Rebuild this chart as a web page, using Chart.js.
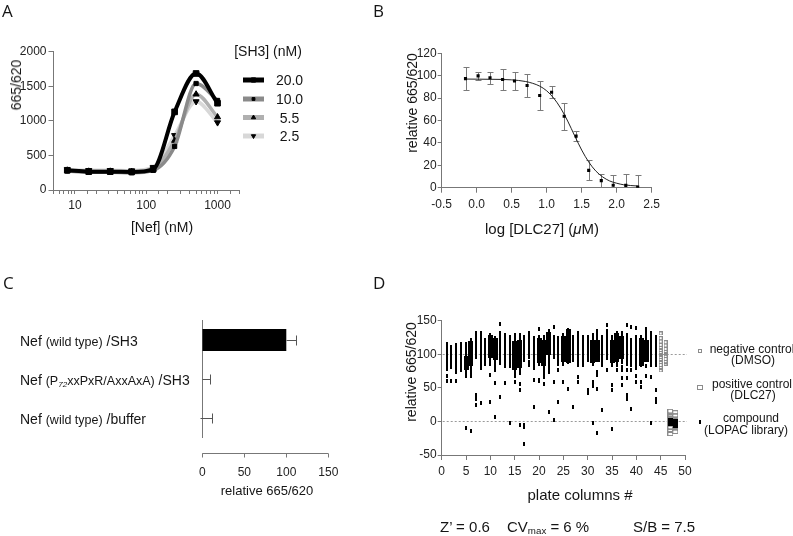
<!DOCTYPE html>
<html><head><meta charset="utf-8">
<script src="https://cdn.jsdelivr.net/npm/chart.js@4/dist/chart.umd.min.js"></script>
<style>
body{margin:0;background:#fff;width:793px;height:536px;overflow:hidden;position:relative;font-family:"Liberation Sans",Arial,sans-serif;color:#151515}
canvas{position:absolute;left:0;top:0}
.t{position:absolute;white-space:nowrap;line-height:1}
.t sub{font-size:0.65em;vertical-align:-0.25em;line-height:0}
.sm{font-size:12.5px}
</style></head><body>
<canvas id="cA" width="793" height="536"></canvas>
<canvas id="cB" width="793" height="536"></canvas>
<canvas id="cC" width="793" height="536"></canvas>
<canvas id="cD" width="793" height="536"></canvas>
<script>
// ---------- Panel A data ----------
const nefConc = [7.8, 15.6, 31.25, 62.5, 125, 250, 500, 1000];
const sh3Labels = ['20.0', '10.0', '5.5', '2.5'];
const ratioSH3_20 = [285, 265, 265, 262, 300, 1130, 1685, 1255];
const ratioSH3_10 = [275, 255, 255, 250, 285, 630, 1540, 1295];
const ratioSH3_55 = [285, 270, 270, 265, 310, 715, 1385, 1055];
const ratioSH3_25 = [295, 285, 285, 280, 330, 790, 1280, 975];
const nefTickLabels = [10, 100, 1000];

// ---------- Panel B data ----------
const logDLC27 = [-0.16, 0.02, 0.19, 0.37, 0.54, 0.72, 0.9, 1.07, 1.25, 1.42, 1.6, 1.78, 1.95, 2.13, 2.3];
const relSignal = [97.4, 99.8, 98.2, 96.6, 95.3, 91.2, 82.3, 85.2, 63.8, 46, 15.5, 6.3, 2.2, 2.1, 0.5];
const relSignalErr = [10.2, 3.6, 5.5, 9.4, 8.2, 10.5, 13, 5.2, 12, 4.6, 9, 6.2, 9, 10.2, 10.5];
const fitLogX = [-0.16, 0.2, 0.5, 0.7, 0.8, 0.9, 1.0, 1.1, 1.2, 1.3, 1.4, 1.5, 1.6, 1.7, 1.8, 1.9, 2.0, 2.1, 2.3];
const fitRel = [97, 96.8, 96.3, 94.8, 93.2, 90.7, 86.5, 80, 71, 59.5, 46.3, 33.6, 23, 15, 9.6, 6, 4, 2.6, 1.5];

// ---------- Panel C data ----------
const constructs = ['Nef (wild type) /SH3', 'Nef (P72xxPxR/AxxAxA) /SH3', 'Nef (wild type) /buffer'];
const constructSignal = [100, 0, 0];
const constructErrHigh = [12, 9, 12];
const constructErrLow = [0, 0, 3];

// ---------- Panel D data ----------
const compoundByColumn = [
 [115,111,107,104,100,97,93,90,86,82,78,68,60],
 [111,107,103,99,96,92,88,85,81,60],
 [114,110,106,102,98,95,91,87,83,79,74,60],
 [116,112,108,105,101,97,93,89,85,81,77],
 [116,112,108,104,100,96,92,88,84,80,76,72,67,-10],
 [122,118,114,110,106,102,98,94,90,86,82,78,74,68,-15],
 [131,127,123,119,115,111,107,103,99,96,39,34,24],
 [131,127,123,119,115,111,107,103,99,95,91,87,83,79,27],
 [121,117,113,109,105,101,97,93,89,86],
 [129,125,121,117,113,109,105,101,97,93,89,85,69,29],
 [124,120,116,112,108,104,100,96,92,88,84,80,76,57,7],
 [145,131,127,123,119,115,111,107,103,99,95,91,87,37],
 [129,125,121,117,113,109,105,101,97,93,89,85,82,57],
 [126,122,118,114,110,106,102,98,94,90,86,82,-3],
 [128,124,120,116,112,108,104,100,96,92,88,84,80,76,72,68,58],
 [128,124,120,116,112,108,104,100,96,92,88,84,80,76,72,56,47,-5],
 [126,122,118,114,110,106,102,98,94,91,-5,-8,-33],
 [131,127,123,119,115,111,107,103,99,96,88,84],
 [124,120,116,112,108,104,100,96,92,88,86,79,62,22],
 [137,126,122,118,114,110,106,102,98,94,90,86,62,60],
 [126,122,118,114,110,106,102,98,94,90,86,82,78,74,69,66,55],
 [134,130,126,122,118,114,110,106,102,98,94,90,86,82,79,74,14],
 [141,126,122,118,114,110,106,102,98,96,59,2],
 [124,120,116,112,108,104,100,96,92,88,85,76,29],
 [129,125,121,117,113,109,105,101,97,93,89,85,59],
 [136,132,128,124,120,116,112,108,104,100,96,92,89,49],
 [126,122,118,114,110,106,102,98,94,92,22],
 [131,127,123,119,115,111,107,103,99,95,91,87,84,66,59],
 [126,122,118,114,110,106,102,98,94,90,84],
 [126,122,118,114,110,106,102,98,94,92,47,42],
 [129,125,121,117,113,109,105,101,97,93,89,85,59,53,-3],
 [134,130,126,122,118,114,110,106,102,98,94,91,74,69,49,-17],
 [126,122,118,114,110,106,102,98,94,90,86,84,17],
 [143,134,130,126,122,118,114,110,106,102,98,95,77],
 [126,122,118,114,110,106,102,98,94,90,86,84,54,47,-11],
 [132,128,124,120,116,112,108,104,100,96,92,88,84,77],
 [132,128,124,120,116,112,108,104,100,96,92,88,81,77,64,54],
 [143,129,125,121,117,113,109,105,101,97,93,89,86,77,64,39,34],
 [140,122,118,114,110,106,102,98,94,90,86,84,77,19],
 [139,126,122,118,114,110,106,102,98,94,90,86,80,67,59],
 [126,122,118,114,110,106,102,98,94,90,86,84,59,52],
 [137,134,130,126,122,118,114,110,106,102,98,94,91,82,67],
 [132,126,122,118,114,110,106,102,98,94,90,86,84,66,-3],
 [126,122,118,114,110,106,102,98,94,90,86,84,47,34,29]
];
const compoundDenseByColumn = {
 5:[94,90,86,82,79], 6:[117,113,109,105,101,97,93,89,86], 10:[126,122,118,114,110,106,102,98],
 11:[122,118,114,110,106,102,98,94], 15:[117,113,109,105,101,97,93,89,85,81,79],
 16:[118,114,110,106,102,98,94,90,86,82], 20:[122,118,114,110,106,102,98,94,90],
 21:[118,114,110,106,102,98,94,90,86], 22:[130,126,122,118,114,110,106,102],
 25:[124,120,116,112,108,104,100,96,92], 26:[134,130,126,122,118,114,110,106,102,98,94,90],
 31:[118,114,110,106,102,98,94,90], 32:[118,114,110,106,102,98,94,91],
 35:[118,114,110,106,102,98,94,90], 36:[128,124,120,116,112,108,104,100,96,92],
 37:[124,120,116,112,108,104,100,96], 41:[122,118,114,110,106,102,98,94,90,86],
 42:[118,114,110,106,102,98,94,91], 47:[2,-1,-4], 48:[1,-3,-7]
};
const dmsoColumns = [45, 46];
const dmsoValues = [[131,124,119,114,110,106,102,99,96,92,88,84,80,76],[118,113,108,104,100,97,93,89,86]];
const dlc27Columns = [47, 48];
const dlc27Values = [[15,11,7,3,-1,-5,-9,-13,-18],[13,9,5,1,-3,-7,-11,-15]];
const refLevels = [0, 100];
const statZ = "Z’ = 0.6", statCV = "CV<sub>max</sub> = 6 %", statSB = "S/B = 7.5";

// ---------- helpers ----------
const F = '"Liberation Sans", Arial, sans-serif';
const AX = '#777';
const TK = '#222';
Chart.defaults.font.family = F;
Chart.defaults.color = TK;
function txt(html, x, y, size, o = {}) {
  const d = document.createElement('div');
  d.className = 't'; d.innerHTML = html;
  d.style.left = x + 'px'; d.style.top = y + 'px';
  d.style.fontSize = size + 'px';
  if (o.family) d.style.fontFamily = o.family;
  const tx = o.align === 'center' ? '-50%' : (o.align === 'right' ? '-100%' : '0');
  d.style.transform = `translate(${o.rotate ? '-50%' : tx},-50%)` + (o.rotate ? ' rotate(-90deg)' : '');
  document.body.appendChild(d);
}
function axis(extra) {
  return Object.assign({
    border: {color: AX, width: 1},
    grid: {drawOnChartArea: false, color: AX, tickLength: 4},
  }, extra);
}
const tickFont = {size: 12, family: F};
const base = {responsive: false, animation: false, events: [],
  plugins: {legend: {display: false}, tooltip: {enabled: false}}};
function markerCanvas(w, h, draw) { const c = document.createElement('canvas'); c.width = w; c.height = h; draw(c.getContext('2d'), w, h); return c; }

// ---------- Chart A ----------
const legendA = {
  id: 'legA',
  afterDraw(chart) {
    const ctx = chart.ctx, ys = [80, 99, 117.5, 136];
    chart.data.datasets.forEach((ds, i) => {
      ctx.save();
      ctx.strokeStyle = ds.borderColor; ctx.lineWidth = 5;
      ctx.beginPath(); ctx.moveTo(243, ys[i]); ctx.lineTo(264, ys[i]); ctx.stroke();
      ctx.fillStyle = '#000'; ctx.strokeStyle = '#000'; ctx.lineWidth = 1;
      Chart.helpers.drawPoint(ctx, {pointStyle: ds.pointStyle, rotation: ds.pointRotation || 0, radius: ds.pointRadius - 1, borderWidth: 1}, 253.5, ys[i]);
      ctx.restore();
    });
  }
};
const lineColorsA = ['#000', '#8a8a8a', '#b0b0b0', '#d8d8d8'];
const seriesA = [ratioSH3_20, ratioSH3_10, ratioSH3_55, ratioSH3_25];
const stylesA = [['rect', 0, 4], ['rect', 0, 3], ['triangle', 0, 3.5], ['triangle', 180, 3.5]];
new Chart(document.getElementById('cA'), {
  type: 'line',
  data: {datasets: seriesA.map((s, i) => ({
    label: sh3Labels[i],
    data: nefConc.map((x, j) => ({x, y: s[j]})),
    borderColor: lineColorsA[i], borderWidth: i === 0 ? 4 : 3.5,
    pointStyle: stylesA[i][0], pointRotation: stylesA[i][1], pointRadius: stylesA[i][2],
    pointBackgroundColor: '#000', pointBorderColor: '#000', pointBorderWidth: 1,
    cubicInterpolationMode: 'monotone'
  }))},
  options: Object.assign({}, base, {
    layout: {padding: {left: 12, right: 554, top: 51.7, bottom: 316}},
    scales: {
      x: axis({type: 'logarithmic', min: 5, max: 2000, afterFit: s => { s.height = 30; },
        ticks: {autoSkip: false, maxRotation: 0, padding: 4, font: tickFont, color: TK,
          callback: v => nefTickLabels.includes(Math.round(v)) && Math.abs(Math.log10(v) % 1) < 1e-6 ? String(Math.round(v)) : ''}}),
      y: axis({min: 0, max: 2000, afterFit: s => { s.width = 41.5; },
        grid: {drawOnChartArea: false, color: AX, tickLength: 5},
        ticks: {stepSize: 250, padding: 2, font: tickFont, color: TK, callback: v => v % 500 === 0 ? String(v) : ''}})
    }
  }),
  plugins: [legendA]
});

// ---------- Chart B ----------
const errorBarsB = {
  id: 'errB',
  beforeDatasetsDraw(chart) {
    const {ctx, chartArea: a, scales: {x, y}} = chart;
    ctx.save(); ctx.beginPath(); ctx.rect(a.left, a.top - 12, a.right - a.left, a.bottom - a.top + 12); ctx.clip();
    ctx.strokeStyle = '#7a7a7a'; ctx.lineWidth = 1;
    logDLC27.forEach((lx, i) => {
      const px = Math.round(x.getPixelForValue(lx)) + 0.5;
      const hi = Math.round(y.getPixelForValue(relSignal[i] + relSignalErr[i])) + 0.5;
      const lo = Math.round(y.getPixelForValue(relSignal[i] - relSignalErr[i])) + 0.5;
      ctx.beginPath(); ctx.moveTo(px, hi); ctx.lineTo(px, lo);
      ctx.moveTo(px - 3, hi); ctx.lineTo(px + 3, hi);
      ctx.moveTo(px - 3, lo); ctx.lineTo(px + 3, lo); ctx.stroke();
    });
    ctx.restore();
  }
};
new Chart(document.getElementById('cB'), {
  type: 'scatter',
  data: {datasets: [
    {data: logDLC27.map((x, i) => ({x, y: relSignal[i]})), pointStyle: 'rect', pointRadius: 2.2,
     pointBackgroundColor: '#000', pointBorderColor: '#000', pointBorderWidth: 0, showLine: false},
    {data: fitLogX.map((x, i) => ({x, y: fitRel[i]})), showLine: true, pointRadius: 0,
     borderColor: '#222', borderWidth: 1, cubicInterpolationMode: 'monotone'}
  ]},
  options: Object.assign({}, base, {
    layout: {padding: {left: 400, right: 141.3, top: 53.3, bottom: 318.3}},
    scales: {
      x: axis({type: 'linear', min: -0.5, max: 2.5, afterFit: s => { s.height = 30; },
        grid: {drawOnChartArea: false, color: AX, tickLength: 5},
        ticks: {stepSize: 0.5, padding: 5, font: tickFont, color: TK, maxRotation: 0, callback: v => Number(v).toFixed(1)}}),
      y: axis({type: 'linear', min: 0, max: 120, afterFit: s => { s.width = 41.7; },
        ticks: {stepSize: 20, padding: 1, font: tickFont, color: TK}})
    }
  }),
  plugins: [errorBarsB]
});

// ---------- Chart C ----------
const extrasC = {
  id: 'extC',
  afterDatasetsDraw(chart) {
    const {ctx, scales: {x, y}} = chart;
    ctx.save(); ctx.strokeStyle = '#555'; ctx.lineWidth = 1;
    constructs.forEach((c, i) => {
      const py = Math.round(y.getPixelForValue(i)) + 0.5;
      const v = constructSignal[i];
      const xh = Math.round(x.getPixelForValue(v + constructErrHigh[i])) + 0.5;
      const xl = Math.round(x.getPixelForValue(v - constructErrLow[i])) + 0.5;
      ctx.beginPath(); ctx.moveTo(xl, py); ctx.lineTo(xh, py);
      ctx.moveTo(xh, py - 5); ctx.lineTo(xh, py + 5); ctx.stroke();
    });
    ctx.restore();
  },
  afterDraw(chart) {
    const {ctx, chartArea: a, scales: {x}} = chart;
    const ay = Math.round(a.bottom + 15.5) + 0.5;
    ctx.save(); ctx.strokeStyle = AX; ctx.lineWidth = 1; ctx.beginPath();
    ctx.moveTo(x.getPixelForValue(x.min), ay); ctx.lineTo(x.getPixelForValue(x.max), ay);
    x.ticks.forEach(t => { const px = Math.round(x.getPixelForValue(t.value)) + 0.5; ctx.moveTo(px, ay); ctx.lineTo(px, ay + 4); });
    ctx.stroke(); ctx.restore();
  }
};
new Chart(document.getElementById('cC'), {
  type: 'bar',
  data: {labels: constructs, datasets: [{data: constructSignal, backgroundColor: '#000', barPercentage: 0.56, categoryPercentage: 1}]},
  options: Object.assign({}, base, {
    indexAxis: 'y',
    layout: {padding: {left: 200, right: 464.7, top: 320.5, bottom: 38.5}},
    scales: {
      x: {type: 'linear', min: 0, max: 150, afterFit: s => { s.height = 60; },
        border: {display: false}, grid: {display: false, drawTicks: false},
        ticks: {stepSize: 50, padding: 28, font: tickFont, color: TK, maxRotation: 0}},
      y: {afterFit: s => { s.width = 2.3; }, border: {color: AX}, grid: {display: false, drawTicks: false},
        ticks: {display: false}}
    }
  }),
  plugins: [extrasC]
});

// ---------- Chart D ----------
const mkThin = markerCanvas(2, 4, (g, w, h) => { g.fillStyle = '#000'; g.fillRect(0, 0, w, h); });
const mkDense = markerCanvas(5, 4, (g, w, h) => { g.fillStyle = '#000'; g.fillRect(0, 0, w, h); });
const mkDmso = markerCanvas(4, 4, (g) => { g.strokeStyle = '#8c8c8c'; g.lineWidth = 1; g.strokeRect(0.5, 0.5, 3, 3); });
const mkDlc = markerCanvas(6, 5, (g) => { g.strokeStyle = '#8c8c8c'; g.lineWidth = 1; g.strokeRect(0.5, 0.5, 5, 4); });
const thinPts = [], densePts = [], dmsoPts = [], dlcPts = [];
compoundByColumn.forEach((vals, i) => vals.forEach(v => thinPts.push({x: i + 1, y: v})));
Object.keys(compoundDenseByColumn).forEach(c => compoundDenseByColumn[c].forEach(v => densePts.push({x: +c, y: v})));
dmsoColumns.forEach((c, i) => dmsoValues[i].forEach(v => dmsoPts.push({x: c, y: v})));
dlc27Columns.forEach((c, i) => dlc27Values[i].forEach(v => dlcPts.push({x: c, y: v})));
const extrasD = {
  id: 'extD',
  beforeDatasetsDraw(chart) {
    const {ctx, scales: {x, y}} = chart;
    ctx.save(); ctx.strokeStyle = '#9a9a9a'; ctx.lineWidth = 1; ctx.setLineDash([2, 2]);
    refLevels.forEach(v => {
      const py = Math.round(y.getPixelForValue(v)) + 0.5;
      ctx.beginPath(); ctx.moveTo(x.getPixelForValue(x.min) + 1, py); ctx.lineTo(x.getPixelForValue(x.max) + 2, py); ctx.stroke();
    });
    ctx.restore();
  },
  afterDraw(chart) {
    const ctx = chart.ctx;
    [[mkDmso, 351], [mkDlc, 387], [mkThin, 421.5]].forEach(([m, yy]) => ctx.drawImage(m, Math.round(700 - m.width / 2), Math.round(yy - m.height / 2)));
  }
};
new Chart(document.getElementById('cD'), {
  type: 'scatter',
  data: {datasets: [
    {data: densePts, pointStyle: mkDense, pointRadius: 2},
    {data: thinPts, pointStyle: mkThin, pointRadius: 2},
    {data: dmsoPts, pointStyle: mkDmso, pointRadius: 2},
    {data: dlcPts, pointStyle: mkDlc, pointRadius: 2}
  ]},
  options: Object.assign({}, base, {
    layout: {padding: {left: 400, right: 108, top: 320.7, bottom: 51}},
    scales: {
      x: axis({type: 'linear', min: 0, max: 50, afterFit: s => { s.height = 30; },
        grid: {drawOnChartArea: false, color: AX, tickLength: 5},
        ticks: {stepSize: 5, padding: 4, font: tickFont, color: TK, maxRotation: 0, autoSkip: false}}),
      y: axis({type: 'linear', min: -50, max: 150, afterFit: s => { s.width = 41.7; },
        ticks: {stepSize: 50, padding: 1, font: tickFont, color: TK}})
    }
  }),
  plugins: [extrasD]
});

// ---------- Text ----------
const LET = '"Open Sans", "DejaVu Sans", sans-serif';
txt('A', 2, 10, 17, {family: LET});
txt('B', 373, 10, 17, {family: LET});
txt('C', 3, 282, 17, {family: LET});
txt('D', 373, 282, 17, {family: LET});
txt('665/620', 16, 85, 14, {rotate: true});
txt('[Nef] (nM)', 162, 227, 14, {align: 'center'});
txt('[SH3] (nM)', 268, 51, 14, {align: 'center'});
sh3Labels.forEach((l, i) => txt(l, 289.5, [80, 99, 117.5, 136][i], 14, {align: 'center'}));
txt('relative 665/620', 412, 103, 14, {rotate: true});
txt('log [DLC27] (<i>μ</i>M)', 542, 228, 15, {align: 'center'});
txt('Nef <span class="sm">(wild type)</span> /SH3', 20, 341, 14);
txt('Nef <span class="sm">(P<sub><i>72</i></sub>xxPxR/AxxAxA)</span> /SH3', 20, 380, 14);
txt('Nef <span class="sm">(wild type)</span> /buffer', 20, 419, 14);
txt('relative 665/620', 267, 490, 13, {align: 'center'});
txt('relative 665/620', 411, 372, 14, {rotate: true});
txt('plate columns #', 580, 494, 15, {align: 'center'});
txt('negative control', 752, 349, 12, {align: 'center'});
txt('(DMSO)', 753, 360, 12, {align: 'center'});
txt('positive control', 752, 384, 12, {align: 'center'});
txt('(DLC27)', 753, 395, 12, {align: 'center'});
txt('compound', 751, 418, 12, {align: 'center'});
txt('(LOPAC library)', 746, 430, 12, {align: 'center'});
txt(statZ, 440, 526, 15);
txt(statCV, 507, 526, 15);
txt(statSB, 633, 526, 15);
</script>
</body></html>
